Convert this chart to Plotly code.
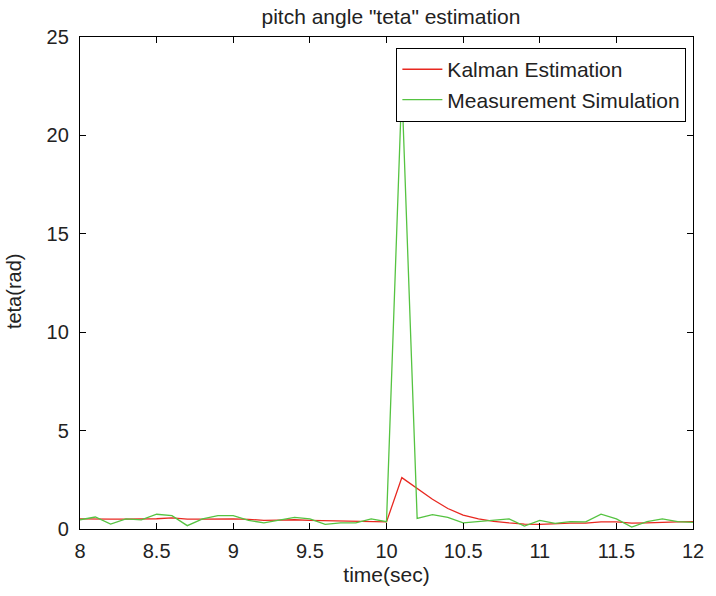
import plotly.graph_objects as go

time_sec = [8.0, 8.1, 8.2, 8.3, 8.4, 8.5, 8.6, 8.7, 8.8, 8.9,
            9.0, 9.1, 9.2, 9.3, 9.4, 9.5, 9.6, 9.7, 9.8, 9.9,
            10.0, 10.1, 10.2, 10.3, 10.4, 10.5, 10.6, 10.7, 10.8, 10.9,
            11.0, 11.1, 11.2, 11.3, 11.4, 11.5, 11.6, 11.7, 11.8, 11.9, 12.0]

kalman_estimation = [0.51, 0.52, 0.50, 0.50, 0.50, 0.52, 0.57, 0.50, 0.50, 0.51,
                     0.51, 0.49, 0.44, 0.45, 0.47, 0.44, 0.42, 0.42, 0.39, 0.37,
                     0.36, 2.61, 2.07, 1.51, 1.04, 0.71, 0.51, 0.39, 0.31, 0.25,
                     0.24, 0.28, 0.30, 0.30, 0.36, 0.36, 0.30, 0.31, 0.35, 0.36, 0.37]

measurement_simulation = [0.47, 0.61, 0.25, 0.51, 0.46, 0.75, 0.68, 0.17, 0.51, 0.68,
                          0.68, 0.44, 0.31, 0.46, 0.59, 0.51, 0.24, 0.31, 0.31, 0.51,
                          0.37, 22.5, 0.54, 0.73, 0.59, 0.31, 0.37, 0.42, 0.51, 0.15,
                          0.44, 0.29, 0.37, 0.36, 0.75, 0.51, 0.10, 0.37, 0.51, 0.37, 0.34]

x_ticks = [8, 8.5, 9, 9.5, 10, 10.5, 11, 11.5, 12]
x_tick_text = ["8", "8.5", "9", "9.5", "10", "10.5", "11", "11.5", "12"]
y_ticks = [0, 5, 10, 15, 20, 25]

FONT = "Liberation Sans, Arial, Helvetica, sans-serif"
TXT = "#222"

fig = go.Figure()
fig.add_trace(go.Scatter(x=time_sec, y=kalman_estimation, mode="lines",
                         name="Kalman Estimation",
                         line=dict(color="rgb(232,40,32)", width=1.3)))
fig.add_trace(go.Scatter(x=time_sec, y=measurement_simulation, mode="lines",
                         name="Measurement Simulation",
                         line=dict(color="rgb(85,195,65)", width=1.3)))

axis_common = dict(showgrid=False, zeroline=False, showline=True, linecolor="black",
                   linewidth=1.3, mirror="allticks", ticks="inside", ticklen=6,
                   tickcolor="black", tickwidth=1,
                   tickfont=dict(family=FONT, size=20, color=TXT))

fig.update_layout(
    width=716, height=596,
    margin=dict(l=80, r=14, t=37, b=67),
    paper_bgcolor="white", plot_bgcolor="white",
    font=dict(family=FONT, size=20, color=TXT),
    title=dict(text='pitch angle "teta" estimation', x=0.546, xanchor="center",
               y=0.972, yanchor="middle", font=dict(family=FONT, size=21, color=TXT)),
    xaxis=dict(range=[8, 12], tickvals=x_ticks, ticktext=x_tick_text,
               title=dict(text="time(sec)", font=dict(family=FONT, size=21, color=TXT), standoff=6),
               ticklabelstandoff=4, **axis_common),
    yaxis=dict(range=[0, 25], tickvals=y_ticks, ticklabelstandoff=6, **axis_common),
    legend=dict(x=0.9887, y=0.978, xanchor="right", yanchor="top",
                bgcolor="white", bordercolor="black", borderwidth=1.3,
                font=dict(family=FONT, size=21, color=TXT),
                tracegroupgap=0, itemwidth=40),
    showlegend=True,
    annotations=[dict(text="teta(rad)", textangle=-90, xref="paper", yref="paper",
                      x=-0.1075, y=0.4837, xanchor="center", yanchor="middle",
                      showarrow=False, font=dict(family=FONT, size=20, color=TXT))],
)

fig.write_html("out.html")
